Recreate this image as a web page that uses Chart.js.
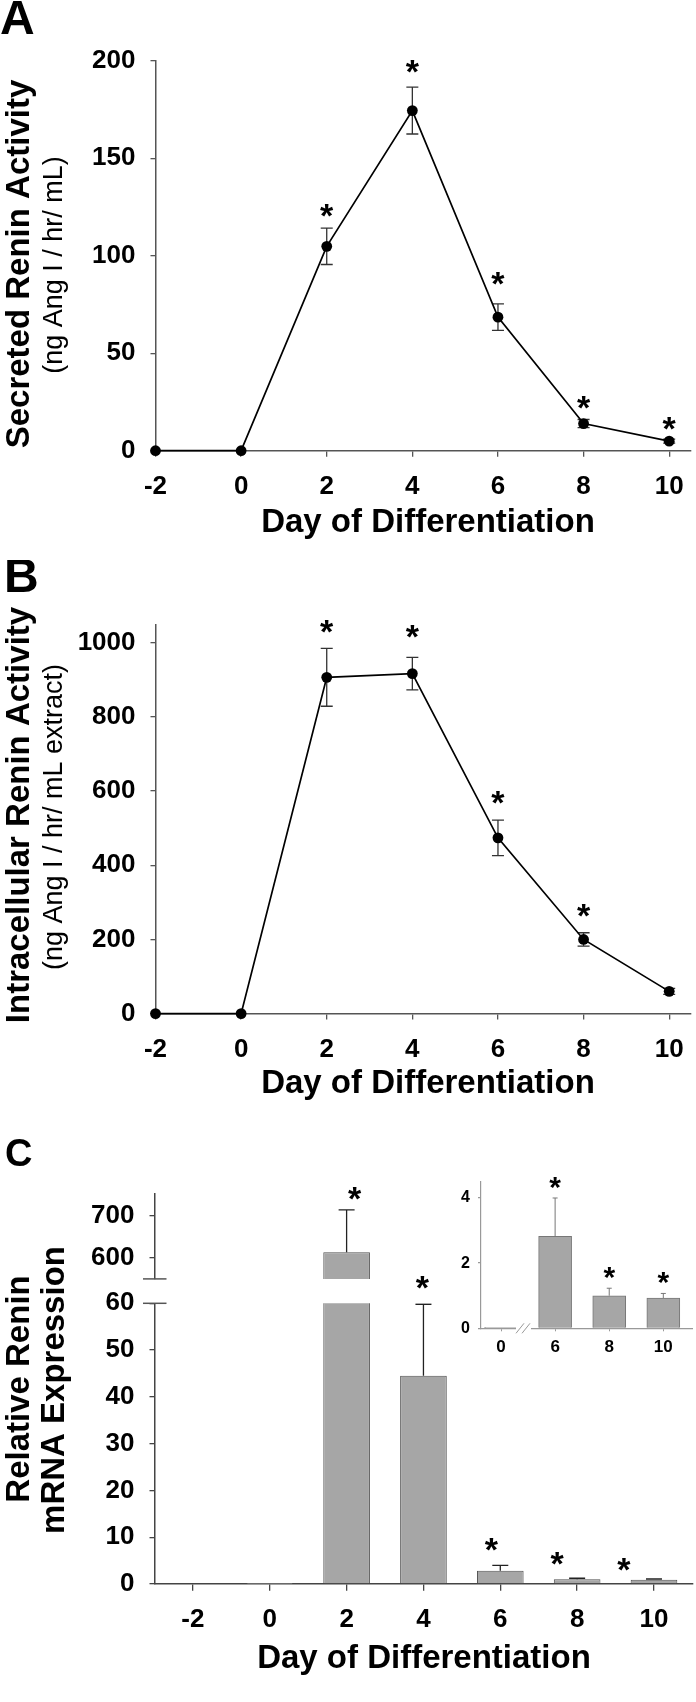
<!DOCTYPE html>
<html><head><meta charset="utf-8">
<script src="https://cdn.jsdelivr.net/npm/chart.js@4.4.1/dist/chart.umd.min.js"></script>
<style>
html,body{margin:0;padding:0;background:#fff;}
#wrap{position:relative;width:696px;height:1702px;overflow:hidden;background:#fff;}
canvas{position:absolute;}
</style></head><body>
<div id="wrap">
<canvas id="cA" width="696" height="560" style="left:0;top:0"></canvas>
<canvas id="cB" width="696" height="560" style="left:0;top:560px"></canvas>
<canvas id="cC" width="696" height="582" style="left:0;top:1120px"></canvas>
<canvas id="cCU" width="696" height="110" style="left:0;top:1180px"></canvas>
<canvas id="cI" width="266" height="210" style="left:430px;top:1160px"></canvas>
</div>
<script>
// ---------------- data ----------------
const days = [-2, 0, 2, 4, 6, 8, 10];
const dayLabels = ['-2', '0', '2', '4', '6', '8', '10'];
const secretedActivity = [0, 0, 104.8, 174.4, 68.5, 13.9, 4.9];
const secretedSEM = [0, 0, 9.3, 12, 6.8, 2.1, 1.0];
const secretedSig = [false, false, true, true, true, true, true];
const intracellularActivity = [0, 0, 907, 917, 474, 200, 60];
const intracellularSEM = [0, 0, 78, 44, 48, 18, 8];
const intracellularSig = [false, false, true, true, true, true, false];
const mrnaExpression = [0, 0.02, 613, 44.5, 2.82, 1.0, 0.93];
const mrnaSEM = [0, 0, 100, 15.3, 1.18, 0.23, 0.14];
const mrnaSig = [false, false, true, true, true, true, true];
const insetDays = ['0', '6', '8', '10'];
const insetExpression = [0.02, 2.82, 1.0, 0.93];
const insetSEM = [0, 1.18, 0.23, 0.14];
const insetSig = [false, true, true, true];
const ticksA = [0, 50, 100, 150, 200];
const ticksB = [0, 200, 400, 600, 800, 1000];
const ticksCLow = [0, 10, 20, 30, 40, 50, 60];
const ticksCHigh = [600, 700];
const ticksInset = [0, 2, 4];

// ---------------- styling ----------------
const SANS = '"Liberation Sans", Arial, sans-serif';
const tickFont = { family: SANS, size: 26, weight: 'bold' };
const starOffA = [0, 0, 20, 23.5, 28, 20, 18];
const starOffB = [0, 0, 24, 28, 25, 25, 0];
const starOffC = [0, 0, 18.5, 24, 23, 22, 17];
const starDxC = [0, 0, 8, -1, -9, -20, -30];

Chart.defaults.animation = false;
Chart.defaults.responsive = false;
Chart.defaults.devicePixelRatio = 1;
Chart.defaults.plugins.legend.display = false;
Chart.defaults.plugins.tooltip.enabled = false;

// ---------------- helpers ----------------
function txt(ctx, s, x, y, font, o) {
  o = o || {};
  ctx.save();
  ctx.font = font;
  ctx.fillStyle = o.color || '#000';
  ctx.textAlign = o.align || 'left';
  ctx.textBaseline = 'alphabetic';
  ctx.translate(x, y);
  if (o.rot) ctx.rotate(o.rot);
  ctx.fillText(s, 0, 0);
  ctx.restore();
}
function layoutFor(area, W, H, xH) {
  return { padding: { left: 0, top: area.top, right: W - area.right, bottom: H - area.bottom - xH } };
}
function noPad(s) { s.paddingTop = 0; s.paddingBottom = 0; s.paddingLeft = 0; s.paddingRight = 0; }
function errorBars(chart, values, errs, o) {
  const ys = chart.scales.y, meta = chart.getDatasetMeta(0), ctx = chart.ctx, a = chart.chartArea;
  ctx.save();
  if (o.clip) { ctx.beginPath(); ctx.rect(0, a.top, chart.width, a.bottom - a.top); ctx.clip(); }
  ctx.strokeStyle = o.color; ctx.lineWidth = o.width;
  values.forEach((v, i) => {
    if (!(errs[i] > 0)) return;
    const x = meta.data[i].x;
    const yt = ys.getPixelForValue(v + errs[i]);
    const yb = o.both ? ys.getPixelForValue(v - errs[i]) : ys.getPixelForValue(v);
    ctx.beginPath();
    ctx.moveTo(x, yt); ctx.lineTo(x, yb);
    ctx.moveTo(x - o.cap, yt); ctx.lineTo(x + o.cap, yt);
    if (o.both) { ctx.moveTo(x - o.cap, yb); ctx.lineTo(x + o.cap, yb); }
    ctx.stroke();
  });
  ctx.restore();
}
function stars(chart, values, errs, sig, o) {
  const ys = chart.scales.y, meta = chart.getDatasetMeta(0);
  values.forEach((v, i) => {
    if (!sig[i]) return;
    const top = v + errs[i];
    if (o.range && (top < o.range[0] || top > o.range[1])) return;
    const off = Array.isArray(o.offset) ? o.offset[i] : o.offset;
    const cy = ys.getPixelForValue(top) - off;
    const dx = o.dx ? o.dx[i] : 0;
    txt(chart.ctx, '*', meta.data[i].x + dx, cy + 0.56 * o.size, 'bold ' + o.size + 'px ' + SANS, { align: 'center' });
  });
}
function yAxis(min, max, ticks, width, o) {
  o = o || {};
  return {
    type: 'linear', min: min, max: max,
    afterBuildTicks: s => { s.ticks = ticks.map(v => ({ value: v })); },
    afterFit: s => { s.width = width; noPad(s); },
    ticks: { font: o.font || tickFont, color: '#000', padding: o.pad || 15, callback: v => String(v) },
    grid: { drawOnChartArea: false, drawTicks: true, tickLength: o.tl || 5, color: o.color || '#555', lineWidth: 1.3 },
    border: { display: true, color: o.color || '#555', width: o.bw || 1.5 }
  };
}

// ---------------- Panels A and B ----------------
function linePanel(id, area, values, errs, sig, yMax, yTicks, deco, starOff) {
  return new Chart(document.getElementById(id), {
    type: 'line',
    data: { datasets: [{
      data: days.map((d, i) => ({ x: d, y: values[i] })),
      borderColor: '#000', borderWidth: 1.7, tension: 0, clip: false,
      pointRadius: 5.4, pointBackgroundColor: '#000', pointBorderWidth: 0
    }] },
    options: {
      layout: layoutFor(area, 696, 560, 60),
      scales: {
        x: {
          type: 'linear', min: -2, max: 10.5,
          afterBuildTicks: s => { s.ticks = days.map(v => ({ value: v })); },
          afterFit: s => { s.height = 60; noPad(s); },
          ticks: { font: tickFont, color: '#000', padding: 15, callback: v => dayLabels[days.indexOf(v)] },
          grid: { drawOnChartArea: false, drawTicks: true, tickLength: 6, color: '#555', lineWidth: 1.3 },
          border: { display: true, color: '#555', width: 1.5 }
        },
        y: yAxis(0, yMax, yTicks, area.left)
      }
    },
    plugins: [{
      id: 'deco' + id,
      beforeDatasetsDraw(chart) {
        errorBars(chart, values, errs, { color: '#333', width: 1.3, cap: 6, both: true });
      },
      afterDraw(chart) {
        stars(chart, values, errs, sig, { offset: starOff, size: 34 });
        deco(chart.ctx);
      }
    }]
  });
}
const areaA = { left: 155.5, top: 60.7, right: 694.6, bottom: 450.7 };
linePanel('cA', areaA, secretedActivity, secretedSEM, secretedSig, 200, ticksA, ctx => {
  txt(ctx, 'A', 0, 34, 'bold 48px ' + SANS);
  txt(ctx, 'Secreted Renin Activity', 29, 264, 'bold 33px ' + SANS, { align: 'center', rot: -Math.PI / 2 });
  txt(ctx, '(ng Ang I / hr/ mL)', 62, 265, '27px ' + SANS, { align: 'center', rot: -Math.PI / 2 });
  txt(ctx, 'Day of Differentiation', 428, 532, 'bold 33px ' + SANS, { align: 'center' });
}, starOffA);

const areaB = { left: 155.5, top: 64.3, right: 694.6, bottom: 453.6 };
linePanel('cB', areaB, intracellularActivity, intracellularSEM, intracellularSig, 1050, ticksB, ctx => {
  txt(ctx, 'B', 4, 31.7, 'bold 48px ' + SANS);
  txt(ctx, 'Intracellular Renin Activity', 29, 255, 'bold 33px ' + SANS, { align: 'center', rot: -Math.PI / 2 });
  txt(ctx, '(ng Ang I / hr/ mL extract)', 62, 257, '27px ' + SANS, { align: 'center', rot: -Math.PI / 2 });
  txt(ctx, 'Day of Differentiation', 428, 533, 'bold 33px ' + SANS, { align: 'center' });
}, starOffB);

// ---------------- Panel C (lower + upper segments of the broken axis) ----------------
function barDataset() {
  return {
    data: mrnaExpression, backgroundColor: '#a6a6a6', borderColor: '#505050', borderWidth: 1,
    borderSkipped: 'start', barPercentage: 0.607, categoryPercentage: 1, clip: 0
  };
}
function breakMark(chart, value) {
  const ctx = chart.ctx, y = chart.scales.y.getPixelForValue(value), x = chart.chartArea.left;
  ctx.save(); ctx.strokeStyle = '#555'; ctx.lineWidth = 1.5;
  ctx.beginPath(); ctx.moveTo(x - 11.5, y); ctx.lineTo(x + 12, y); ctx.stroke(); ctx.restore();
}
const areaC = { left: 154.5, top: 183.3, right: 692.4, bottom: 464 };
new Chart(document.getElementById('cC'), {
  type: 'bar',
  data: { labels: dayLabels, datasets: [barDataset()] },
  options: {
    layout: layoutFor(areaC, 696, 582, 60),
    scales: {
      x: {
        type: 'category', offset: true,
        afterFit: s => { s.height = 60; noPad(s); },
        ticks: { font: tickFont, color: '#000', padding: 14 },
        grid: { offset: false, drawOnChartArea: false, drawTicks: true, tickLength: 6.7, color: '#444', lineWidth: 1.3 },
        border: { display: true, color: '#444', width: 1.5 }
      },
      y: yAxis(0, 60, ticksCLow, areaC.left, { color: '#444' })
    }
  },
  plugins: [{
    id: 'decoC',
    afterDatasetsDraw(chart) {
      errorBars(chart, mrnaExpression, mrnaSEM, { color: '#222', width: 1.3, cap: 8, both: false, clip: true });
    },
    afterDraw(chart) {
      stars(chart, mrnaExpression, mrnaSEM, mrnaSig, { offset: starOffC, size: 34, range: [0, 60], dx: starDxC });
      breakMark(chart, 60);
      const ctx = chart.ctx;
      txt(ctx, 'C', 5, 46.4, 'bold 38px ' + SANS);
      txt(ctx, 'Relative Renin', 29, 269, 'bold 33px ' + SANS, { align: 'center', rot: -Math.PI / 2 });
      txt(ctx, 'mRNA Expression', 64, 270, 'bold 33px ' + SANS, { align: 'center', rot: -Math.PI / 2 });
      txt(ctx, 'Day of Differentiation', 424, 548, 'bold 33px ' + SANS, { align: 'center' });
    }
  }]
});

const areaCU = { left: 154.5, top: 14.2, right: 692.4, bottom: 98.9 };
new Chart(document.getElementById('cCU'), {
  type: 'bar',
  data: { labels: dayLabels, datasets: [barDataset()] },
  options: {
    layout: layoutFor(areaCU, 696, 110, 0),
    scales: {
      x: { type: 'category', offset: true, display: false, afterFit: s => { noPad(s); } },
      y: yAxis(550, 750, ticksCHigh, areaCU.left, { color: '#444' })
    }
  },
  plugins: [{
    id: 'decoCU',
    afterDatasetsDraw(chart) {
      errorBars(chart, mrnaExpression, mrnaSEM, { color: '#222', width: 1.3, cap: 8, both: false, clip: true });
    },
    afterDraw(chart) {
      stars(chart, mrnaExpression, mrnaSEM, mrnaSig, { offset: starOffC, size: 34, range: [550, 800], dx: starDxC });
      breakMark(chart, 550);
    }
  }]
});

// ---------------- Inset ----------------
const areaI = { left: 51, top: 21.7, right: 262, bottom: 168.3 };
new Chart(document.getElementById('cI'), {
  type: 'bar',
  data: { datasets: [{
    data: insetExpression.map((v, i) => ({ x: i, y: v })),
    backgroundColor: '#a6a6a6', borderColor: '#777', borderWidth: 1, borderSkipped: 'start',
    barThickness: 33, clip: false
  }] },
  options: {
    layout: layoutFor(areaI, 266, 210, 30),
    scales: {
      x: {
        type: 'linear', min: -0.37, max: 3.53, offset: false,
        afterBuildTicks: s => { s.ticks = insetDays.map((_, i) => ({ value: i })); },
        afterFit: s => { s.height = 30; noPad(s); },
        ticks: { font: { family: SANS, size: 17, weight: 'bold' }, color: '#000', padding: 6, callback: v => insetDays[v] },
        grid: { offset: false, drawOnChartArea: false, drawTicks: true, tickLength: 3, color: '#999', lineWidth: 1 },
        border: { display: true, color: '#999', width: 1.2 }
      },
      y: yAxis(0, 4.5, ticksInset, areaI.left, { font: { family: SANS, size: 16, weight: 'bold' }, pad: 8, tl: 3, color: '#999', bw: 1.2 })
    }
  },
  plugins: [{
    id: 'decoI',
    afterDatasetsDraw(chart) {
      errorBars(chart, insetExpression, insetSEM, { color: '#777', width: 1, cap: 2.5, both: false });
    },
    afterDraw(chart) {
      stars(chart, insetExpression, insetSEM, insetSig, { offset: 18, size: 30 });
      const ctx = chart.ctx, y = chart.chartArea.bottom;
      ctx.save();
      ctx.fillStyle = '#fff'; ctx.fillRect(86, y - 2, 15, 4);
      ctx.strokeStyle = '#999'; ctx.lineWidth = 1;
      ctx.beginPath();
      ctx.moveTo(86, y + 5); ctx.lineTo(94, y - 5);
      ctx.moveTo(92, y + 5); ctx.lineTo(100, y - 5);
      ctx.stroke(); ctx.restore();
    }
  }]
});
</script>
</body></html>
